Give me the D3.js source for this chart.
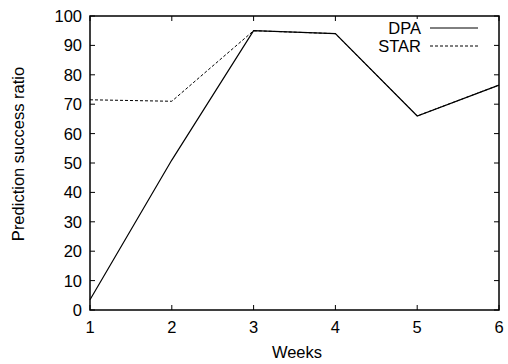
<!DOCTYPE html>
<html>
<head>
<meta charset="utf-8">
<script src="https://cdn.jsdelivr.net/npm/d3@7"></script>
<style>
  body { margin: 0; background: #fff; }
  text { font-family: "Liberation Sans", Arial, sans-serif; font-size: 16.5px; fill: #000; }
</style>
</head>
<body>
<svg id="chart" width="508" height="364"></svg>
<script>
// data
const weeks = [1, 2, 3, 4, 5, 6];
const dpa = [3.5, 51, 95, 94, 66, 76.5];
const star = [71.5, 71, 95, 94, 66, 76.5];
const yTicks = [0, 10, 20, 30, 40, 50, 60, 70, 80, 90, 100];

const plotLeft = 90, plotRight = 499, plotTop = 16, plotBottom = 310;
const tick = 5;

const svg = d3.select('#chart');

const x = d3.scaleLinear().domain([1, 6]).range([plotLeft, plotRight]);
const y = d3.scaleLinear().domain([0, 100]).range([plotBottom, plotTop]);

const g = svg.append('g');

// ticks, inward on all four sides (gnuplot style)
yTicks.forEach(v => {
  g.append('line').attr('x1', plotLeft).attr('x2', plotLeft + tick)
    .attr('y1', y(v)).attr('y2', y(v)).attr('stroke', '#000');
  g.append('line').attr('x1', plotRight).attr('x2', plotRight - tick)
    .attr('y1', y(v)).attr('y2', y(v)).attr('stroke', '#000');
  g.append('text').attr('x', plotLeft - 8).attr('y', y(v) + 6)
    .attr('text-anchor', 'end').text(v);
});
weeks.forEach(w => {
  g.append('line').attr('x1', x(w)).attr('x2', x(w))
    .attr('y1', plotBottom).attr('y2', plotBottom - tick).attr('stroke', '#000');
  g.append('line').attr('x1', x(w)).attr('x2', x(w))
    .attr('y1', plotTop).attr('y2', plotTop + tick).attr('stroke', '#000');
  g.append('text').attr('x', x(w)).attr('y', plotBottom + 23)
    .attr('text-anchor', 'middle').text(w);
});

// frame
svg.append('rect')
  .attr('x', plotLeft).attr('y', plotTop)
  .attr('width', plotRight - plotLeft).attr('height', plotBottom - plotTop)
  .attr('fill', 'none').attr('stroke', '#000').attr('stroke-width', 1.5);

const line = d3.line().x((d, i) => x(weeks[i])).y(d => y(d));

svg.append('path').datum(star).attr('d', line)
  .attr('fill', 'none').attr('stroke', '#000').attr('stroke-width', 1)
  .attr('stroke-dasharray', '3,2');
svg.append('path').datum(dpa).attr('d', line)
  .attr('fill', 'none').attr('stroke', '#000').attr('stroke-width', 1.2);

// legend
const legend = [
  { name: 'DPA', dash: null, yy: 28 },
  { name: 'STAR', dash: '3,2', yy: 46 }
];
legend.forEach(l => {
  svg.append('rect').attr('x', 370).attr('y', l.yy - 9).attr('width', 115).attr('height', 18)
    .attr('fill', '#fff');
  svg.append('text').attr('x', 421).attr('y', l.yy + 6)
    .attr('text-anchor', 'end').text(l.name);
  svg.append('line').attr('x1', 430).attr('x2', 478)
    .attr('y1', l.yy).attr('y2', l.yy)
    .attr('stroke', '#000').attr('stroke-width', 1)
    .attr('stroke-dasharray', l.dash);
});

// axis labels
svg.append('text')
  .attr('transform', 'translate(24, 154) rotate(-90)')
  .attr('text-anchor', 'middle').text('Prediction success ratio');
svg.append('text').attr('x', 297).attr('y', 358)
  .attr('text-anchor', 'middle').text('Weeks');
</script>
</body>
</html>
